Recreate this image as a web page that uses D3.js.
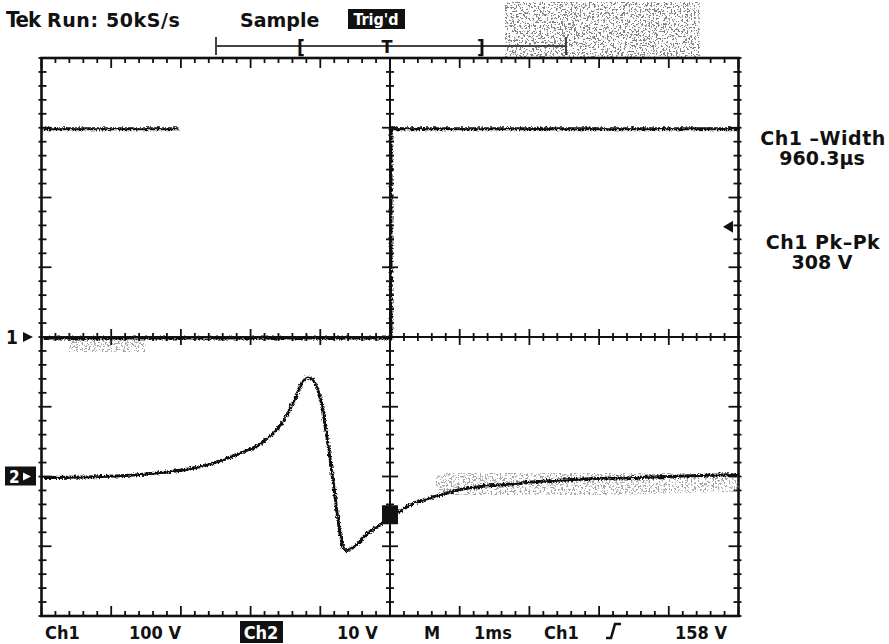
<!DOCTYPE html>
<html lang="en">
<head>
<meta charset="UTF-8">
<title>Tek Run: 50kS/s</title>
<style>
  body { margin: 0; background: #fff; }
  svg text { font-family: "DejaVu Sans Condensed", "DejaVu Sans", sans-serif; font-weight: bold; fill: #111; }
  svg text.wide { font-family: "DejaVu Sans", sans-serif; }
</style>
</head>
<body>
<div id="scope"></div>
<script src="https://d3js.org/d3.v7.min.js"></script>
<script>
// screen: 10 time divisions (1 ms/div, trigger at 0), 8 vertical divisions
var timeDomain = [-5, 5];
var divDomain = [-4, 4];

// channel settings from the readout
var ch1VoltsPerDiv = 100, ch1Ground = 0;
var ch2VoltsPerDiv = 10, ch2Ground = -2;
var trigLevel = 158;

// Ch1 gate pulse (two visible pieces of trace)
var ch1Time = [[-5, -3.05], [-5, 0, 0, 5]];
var ch1Volts = [[300, 300], [0, 0, 300, 300]];

// Ch2 trace, ms vs volts
var ch2Time = [-5.0, -4.16, -3.44, -2.73, -2.25, -1.76, -1.54, -1.39, -1.29, -1.21, -1.12, -1.03, -0.93, -0.82, -0.72, -0.66, -0.57, -0.36, 0.0, 0.22, 0.67, 1.0, 1.62, 2.58, 3.54, 4.2, 5.0];
var ch2Volts = [0.0, 0.14, 0.57, 1.58, 3.16, 5.75, 8.2, 11.1, 13.4, 14.4, 13.9, 11.9, 6.5, -1.4, -8.6, -10.5, -10.2, -8.2, -5.7, -4.2, -2.6, -1.7, -1.0, -0.3, 0.0, 0.2, 0.43];

var W = 889, H = 644;
var svg = d3.select("#scope").append("svg")
  .attr("width", W).attr("height", H);

// filters: speckle for persistence / scan noise, jitter for traces
var defs = svg.append("defs");
var sp = defs.append("filter").attr("id", "speckle")
  .attr("x", 0).attr("y", 0).attr("width", 1).attr("height", 1);
sp.append("feTurbulence").attr("type", "fractalNoise").attr("baseFrequency", 0.55)
  .attr("numOctaves", 2).attr("seed", 4).attr("result", "n");
sp.append("feColorMatrix").attr("in", "n").attr("type", "matrix")
  .attr("values", "0 0 0 0 0.15  0 0 0 0 0.15  0 0 0 0 0.15  22 0 0 0 -12.2").attr("result", "dots");
sp.append("feComposite").attr("in", "dots").attr("in2", "SourceGraphic").attr("operator", "in");

var jit = defs.append("filter").attr("id", "jitter")
  .attr("filterUnits", "userSpaceOnUse").attr("x", 0).attr("y", 0).attr("width", W).attr("height", H);
jit.append("feTurbulence").attr("type", "turbulence").attr("baseFrequency", 0.35)
  .attr("numOctaves", 1).attr("seed", 2).attr("result", "t");
jit.append("feDisplacementMap").attr("in", "SourceGraphic").attr("in2", "t")
  .attr("scale", 3.5).attr("xChannelSelector", "R").attr("yChannelSelector", "G");

var x = d3.scaleLinear().domain(timeDomain).range([41.5, 738.5]);
var y = d3.scaleLinear().domain(divDomain).range([616, 58]);

function ch1y(v) { return y(v / ch1VoltsPerDiv + ch1Ground); }
function ch2y(v) { return y(v / ch2VoltsPerDiv + ch2Ground); }

// scan noise, top right
svg.append("rect").attr("x", 505).attr("y", 2).attr("width", 195).attr("height", 56)
  .attr("fill", "#000").attr("filter", "url(#speckle)").attr("opacity", 0.85);

// graticule
var g = svg.append("g").attr("stroke", "#111").attr("fill", "none");
g.append("rect").attr("x", x(-5)).attr("y", y(4))
  .attr("width", x(5) - x(-5)).attr("height", y(-4) - y(4)).attr("stroke-width", 2.6);
g.append("line").attr("x1", x(0)).attr("x2", x(0)).attr("y1", y(4)).attr("y2", y(-4)).attr("stroke-width", 2);
g.append("line").attr("x1", x(-5)).attr("x2", x(5)).attr("y1", y(0)).attr("y2", y(0)).attr("stroke-width", 2);

function isMajor(v) { return Math.abs(v - Math.round(v)) < 1e-6; }
var xt = d3.range(-5, 5.001, 0.2), yt = d3.range(-4, 4.001, 0.2);

xt.forEach(function (t) {
  var px = x(t), len = isMajor(t) ? 10 : 5;
  g.append("line").attr("x1", px).attr("x2", px).attr("y1", y(4)).attr("y2", y(4) + len).attr("stroke-width", 1.8);
  g.append("line").attr("x1", px).attr("x2", px).attr("y1", y(-4)).attr("y2", y(-4) - len).attr("stroke-width", 1.8);
  var c = isMajor(t) ? 8 : 4;
  g.append("line").attr("x1", px).attr("x2", px).attr("y1", y(0) - c).attr("y2", y(0) + c).attr("stroke-width", 1.8);
});
yt.forEach(function (d) {
  var py = y(d), len = isMajor(d) ? 10 : 5;
  g.append("line").attr("x1", x(-5) - 3).attr("x2", x(-5) + len).attr("y1", py).attr("y2", py).attr("stroke-width", 1.8);
  g.append("line").attr("x1", x(5) + 3).attr("x2", x(5) - len).attr("y1", py).attr("y2", py).attr("stroke-width", 1.8);
  var c = isMajor(d) ? 8 : 4;
  g.append("line").attr("x1", x(0) - c).attr("x2", x(0) + c).attr("y1", py).attr("y2", py).attr("stroke-width", 1.8);
});

// persistence haze around the traces
var ch2Line = d3.line()
  .x(function (d) { return x(d[0]); })
  .y(function (d) { return ch2y(d[1]); })
  .curve(d3.curveMonotoneX);
var ch2Pts = ch2Time.map(function (t, i) { return [t, ch2Volts[i]]; });

svg.append("path").datum(ch2Pts.filter(function (d) { return d[0] >= 0.3; }))
  .attr("d", ch2Line).attr("fill", "none").attr("stroke", "#000")
  .attr("stroke-width", 36).attr("filter", "url(#speckle)").attr("opacity", 0.6);
svg.append("path").datum(ch2Pts.filter(function (d) { return d[0] <= -3.5; }))
  .attr("d", ch2Line).attr("fill", "none").attr("stroke", "#000")
  .attr("stroke-width", 14).attr("filter", "url(#speckle)").attr("opacity", 0.4);
svg.append("rect").attr("x", x(-4.6)).attr("y", ch1y(0) + 2).attr("width", x(-3.5) - x(-4.6)).attr("height", 13)
  .attr("fill", "#000").attr("filter", "url(#speckle)").attr("opacity", 0.6);

// Ch1 trace
var ch1Line = d3.line()
  .x(function (d) { return x(d[0]); })
  .y(function (d) { return ch1y(d[1]); });
ch1Time.forEach(function (seg, k) {
  svg.append("path").datum(seg.map(function (t, i) { return [t, ch1Volts[k][i]]; }))
    .attr("d", ch1Line).attr("fill", "none").attr("stroke", "#111")
    .attr("stroke-width", 3).attr("filter", "url(#jitter)");
});

// Ch2 trace
svg.append("path").datum(ch2Pts).attr("d", ch2Line)
  .attr("fill", "none").attr("stroke", "#111").attr("stroke-width", 3)
  .attr("filter", "url(#jitter)");

// trigger point marker on ch2
svg.append("rect").attr("x", x(0) - 8).attr("y", ch2y(ch2Volts[ch2Time.indexOf(0)]) - 11)
  .attr("width", 16).attr("height", 19).attr("fill", "#111");

// ground markers
svg.append("text").attr("x", 6).attr("y", y(ch1Ground) + 7).attr("font-size", 19).text("1");
svg.append("path").attr("d", d3.line()([[23, y(ch1Ground) - 5], [33, y(ch1Ground)], [23, y(ch1Ground) + 5]]))
  .attr("fill", "#111");
svg.append("rect").attr("x", 5).attr("y", y(ch2Ground) - 10).attr("width", 31).attr("height", 19).attr("fill", "#111");
svg.append("text").attr("x", 9).attr("y", y(ch2Ground) + 6).attr("font-size", 17).style("fill", "#fff").text("2");
svg.append("path").attr("d", d3.line()([[23, y(ch2Ground) - 4], [31, y(ch2Ground)], [23, y(ch2Ground) + 4]]))
  .attr("fill", "#fff");

// trigger level arrow (right edge)
var ty = ch1y(trigLevel);
svg.append("path").attr("d", d3.line()([[723, ty], [733, ty - 6], [733, ty + 6]])).attr("fill", "#111");

// record bar at top
var bar = svg.append("g").attr("stroke", "#444").attr("fill", "none");
bar.append("line").attr("x1", 216).attr("x2", 566).attr("y1", 46).attr("y2", 46).attr("stroke-width", 1.8);
bar.append("line").attr("x1", 216).attr("x2", 216).attr("y1", 37).attr("y2", 55).attr("stroke-width", 2);
bar.append("line").attr("x1", 566).attr("x2", 566).attr("y1", 37).attr("y2", 55).attr("stroke-width", 2);
svg.append("text").attr("x", 301).attr("y", 54).attr("font-size", 19).attr("text-anchor", "middle").text("[");
svg.append("text").attr("x", x(0) - 3).attr("y", 53).attr("font-size", 18).attr("text-anchor", "middle").text("T");
svg.append("text").attr("x", 481).attr("y", 54).attr("font-size", 19).attr("text-anchor", "middle").text("]");

// top readout
svg.append("text").attr("x", 6).attr("y", 27).attr("font-size", 22).style("letter-spacing", "-1px").text("Tek");
svg.append("text").attr("class", "wide").attr("x", 47).attr("y", 27).attr("font-size", 19)
  .style("letter-spacing", "0.6px").text("Run: 50kS/s");
svg.append("text").attr("class", "wide").attr("x", 240).attr("y", 27).attr("font-size", 19).text("Sample");
svg.append("rect").attr("x", 348).attr("y", 9).attr("width", 57).attr("height", 20).attr("fill", "#111");
svg.append("text").attr("x", 376).attr("y", 25).attr("font-size", 16).attr("text-anchor", "middle")
  .style("fill", "#fff").text("Trig'd");

// measurements
var meas = [["Ch1 \u2013Width", "960.3\u00b5s"], ["Ch1 Pk\u2013Pk", "308 V"]];
var measY = [145, 249];
meas.forEach(function (m, i) {
  svg.append("text").attr("class", "wide").attr("x", 823).attr("y", measY[i]).attr("font-size", 19)
    .attr("text-anchor", "middle").style("letter-spacing", "0.5px").text(m[0]);
  svg.append("text").attr("class", "wide").attr("x", 822).attr("y", measY[i] + 20).attr("font-size", 19)
    .attr("text-anchor", "middle").text(m[1]);
});

// bottom readout
var bottom = svg.append("g").attr("font-size", 18);
bottom.append("text").attr("x", 45).attr("y", 639).text("Ch1");
bottom.append("text").attr("x", 129).attr("y", 639).text(ch1VoltsPerDiv + " V");
bottom.append("rect").attr("x", 240).attr("y", 621).attr("width", 43).attr("height", 22).attr("fill", "#111");
bottom.append("text").attr("x", 261).attr("y", 639).attr("text-anchor", "middle").style("fill", "#fff").text("Ch2");
bottom.append("text").attr("x", 337).attr("y", 639).text(ch2VoltsPerDiv + " V");
bottom.append("text").attr("x", 424).attr("y", 639).text("M");
bottom.append("text").attr("x", 474).attr("y", 639).text("1ms");
bottom.append("text").attr("x", 544).attr("y", 639).text("Ch1");
bottom.append("path").attr("d", "M606,638 L611,638 L615,624 L621,624")
  .attr("fill", "none").attr("stroke", "#111").attr("stroke-width", 2.6);
bottom.append("text").attr("x", 675).attr("y", 639).text(trigLevel + " V");
</script>
</body>
</html>
